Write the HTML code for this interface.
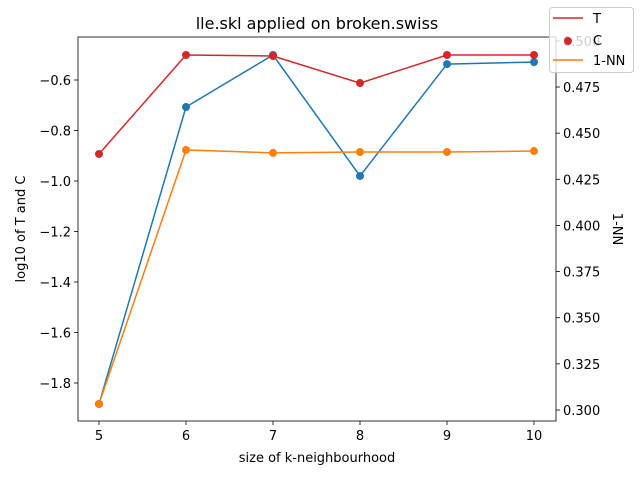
<!DOCTYPE html>
<html><head><meta charset="utf-8"><style>body{margin:0;background:#fff}svg{display:block;font-family:"DejaVu Sans","Liberation Sans",sans-serif}</style></head>
<body>
<svg id="c" width="640" height="480"></svg>
<script>
const ks=[5,6,7,8,9,10];
const tVals=[-0.893,-0.501,-0.505,-0.612,-0.501,-0.501];
const cVals=[-0.893,-0.501,-0.505,-0.612,-0.501,-0.501];
const blueVals=[-1.883,-0.707,-0.501,-0.980,-0.537,-0.529];
const nnVals=[0.3033,0.4409,0.4393,0.4398,0.4398,0.4403];
const xTicks=[5,6,7,8,9,10];
const yTicks=[-1.8,-1.6,-1.4,-1.2,-1.0,-0.8,-0.6];
const y2Ticks=[0.300,0.325,0.350,0.375,0.400,0.425,0.450,0.475,0.500];
const L=78,R=556,T=37,B=421;
const X=v=>99+(v-5)*87;
const Y=v=>80+(-0.6-v)*252.5;
const Y2=v=>410-(v-0.3)*1845.6;
const s=document.getElementById('c');const NS='http://www.w3.org/2000/svg';
function el(t,a,txt){const e=document.createElementNS(NS,t);for(const k in a)e.setAttribute(k,a[k]);if(txt!=null)e.textContent=txt;s.appendChild(e);return e;}
let e;
e=el('rect',{x:L,y:T,width:R-L,height:B-T,fill:'#fff',stroke:'#000','stroke-width':0.8});

xTicks.forEach(v=>{el('line',{x1:X(v),x2:X(v),y1:B,y2:B+4,stroke:'#000','stroke-width':0.8});
e=el('text',{x:X(v),y:B+19,'text-anchor':'middle','font-size':13},v);});
yTicks.forEach(v=>{el('line',{x1:L-4,x2:L,y1:Y(v),y2:Y(v),stroke:'#000','stroke-width':0.8});
e=el('text',{x:L-7,y:Y(v)+5,'text-anchor':'end','font-size':13},v.toFixed(1).replace('-','−'));});
y2Ticks.forEach(v=>{el('line',{x1:R,x2:R+4,y1:Y2(v),y2:Y2(v),stroke:'#000','stroke-width':0.8});
e=el('text',{x:R+7,y:Y2(v)+5,'font-size':13},v.toFixed(3));});
e=el('text',{x:317,y:29,'text-anchor':'middle','font-size':16},'lle.skl applied on broken.swiss');
e=el('text',{x:317,y:462,'text-anchor':'middle','font-size':13},'size of k-neighbourhood');
e=el('text',{x:0,y:0,'text-anchor':'middle','font-size':13,transform:'translate(25,229) rotate(-90)'},'log10 of T and C');
e=el('text',{x:0,y:0,'text-anchor':'middle','font-size':13,transform:'translate(613,229) rotate(90)'},'1-NN');
function series(vals,f,col,line,mk,name){
 if(line){e=el('polyline',{points:vals.map((v,i)=>X(ks[i])+','+f(v)).join(' '),fill:'none',stroke:col,'stroke-width':1.5});}
 if(mk)vals.forEach((v,i)=>{e=el('circle',{cx:X(ks[i]),cy:f(v),r:4,fill:col});});
}
series(blueVals,Y,'#1f77b4',true,true,'blue-series');
series(tVals,Y,'#d62728',true,false,'t-series');
series(cVals,Y,'#d62728',false,true,'c-series');
series(nnVals,Y2,'#ff7f0e',true,true,'nn-series');
e=el('rect',{x:549.5,y:7.5,width:84,height:65,rx:3,fill:'#fff','fill-opacity':0.8,stroke:'#ccc'});
el('line',{x1:553,x2:583,y1:18,y2:18,stroke:'#d62728','stroke-width':1.5});
e=el('text',{x:593,y:23,'font-size':13},'T');
el('circle',{cx:568,cy:41,r:4,fill:'#d62728'});
e=el('text',{x:593,y:45,'font-size':13},'C');
el('line',{x1:553,x2:583,y1:60,y2:60,stroke:'#ff7f0e','stroke-width':1.5});
e=el('text',{x:593,y:65,'font-size':13},'1-NN');
</script>
</body></html>
